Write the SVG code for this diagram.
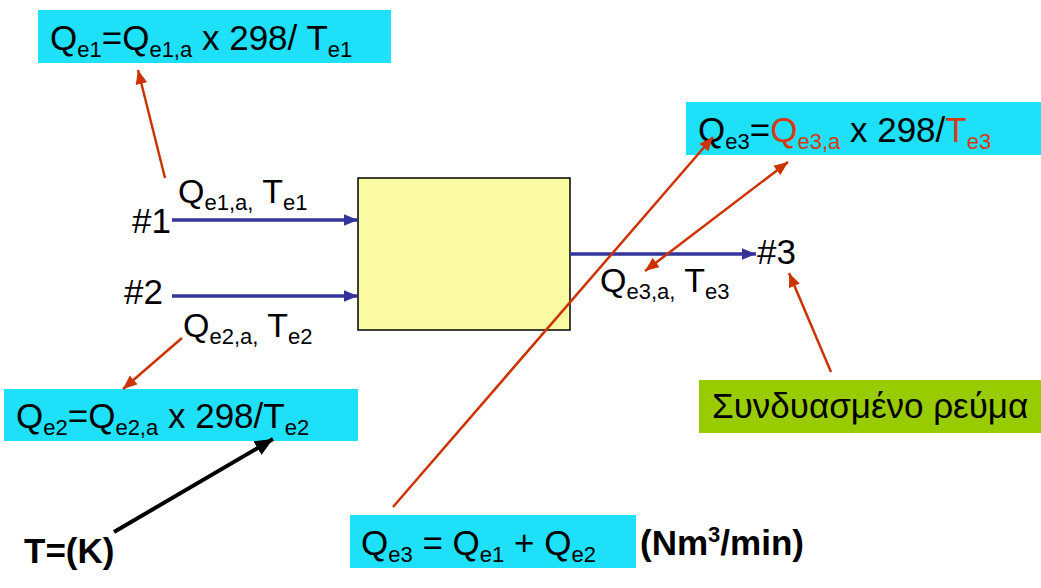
<svg xmlns="http://www.w3.org/2000/svg" width="1041" height="588" viewBox="0 0 1041 588">
<style>
text{font-family:"Liberation Sans",Arial,sans-serif;fill:#000}
.f{font-size:35px}
.l{font-size:34px}
.b{font-weight:bold;font-size:35px}
.s{font-size:22px}
.cy{fill:#1ee0f8}
.red{fill:#d83a12}
.rl{stroke:#cc3300;stroke-width:2.5;fill:none}
.bl{stroke:#333399;stroke-width:3.5;fill:none}
</style>
<defs>
<marker id="ar" markerUnits="userSpaceOnUse" markerWidth="14" markerHeight="12" refX="12" refY="5" orient="auto-start-reverse" viewBox="0 0 12 10"><path d="M0,0 L12,5 L0,10 Z" fill="#cc3300"/></marker>
<marker id="ab" markerUnits="userSpaceOnUse" markerWidth="14" markerHeight="12" refX="12" refY="5" orient="auto" viewBox="0 0 12 10"><path d="M0,0 L12,5 L0,10 Z" fill="#333399"/></marker>
<marker id="ak" markerUnits="userSpaceOnUse" markerWidth="18" markerHeight="16" refX="16" refY="7" orient="auto" viewBox="0 0 16 14"><path d="M0,0 L16,7 L0,14 Z" fill="#000"/></marker>
</defs>

<g id="box1">
<rect class="cy" x="38" y="10" width="353" height="53"/>
<text class="f" x="50" y="50">Q<tspan class="s" dy="7">e1</tspan><tspan dy="-7">=Q</tspan><tspan class="s" dy="7">e1,a</tspan><tspan dy="-7"> x 298/ T</tspan><tspan class="s" dy="7">e1</tspan></text>
</g>

<g id="mixer">
<rect x="358" y="178" width="212" height="152" fill="#fafaa2" stroke="#000" stroke-width="1.5"/>
</g>

<g id="in1">
<text class="f" x="132" y="233">#1</text>
<text class="l" x="178" y="203">Q<tspan class="s" dy="7">e1,a,</tspan><tspan dy="-7"> T</tspan><tspan class="s" dy="7">e1</tspan></text>
</g>

<g id="in2">
<text class="f" x="124" y="304">#2</text>
<text class="l" x="183" y="337">Q<tspan class="s" dy="7">e2,a,</tspan><tspan dy="-7"> T</tspan><tspan class="s" dy="7">e2</tspan></text>
</g>

<g id="box2">
<rect class="cy" x="4" y="389" width="354" height="52"/>
<text class="f" x="16" y="428">Q<tspan class="s" dy="7">e2</tspan><tspan dy="-7">=Q</tspan><tspan class="s" dy="7">e2,a</tspan><tspan dy="-7"> x 298/T</tspan><tspan class="s" dy="7">e2</tspan></text>
</g>

<g id="out3">
<text class="f" x="757" y="264">#3</text>
<text class="l" x="600" y="292">Q<tspan class="s" dy="7">e3,a,</tspan><tspan dy="-7"> T</tspan><tspan class="s" dy="7">e3</tspan></text>
</g>

<g id="box4">
<rect class="cy" x="686" y="102" width="355" height="53"/>
<text class="f" x="698" y="142">Q<tspan class="s" dy="7">e3</tspan><tspan dy="-7">=</tspan><tspan class="red">Q</tspan><tspan class="s red" dy="7">e3,a</tspan><tspan dy="-7"> x 298/</tspan><tspan class="red">T</tspan><tspan class="s red" dy="7">e3</tspan></text>
</g>

<g id="combined">
<rect x="699" y="380" width="342" height="53" fill="#99cc00"/>
<text class="f" x="712" y="418">Συνδυασμένο ρεύμα</text>
</g>

<g id="units">
<text class="b" x="24" y="563">T=(K)</text>
</g>

<g id="box3">
<rect class="cy" x="350" y="515" width="286" height="53"/>
<text class="f" x="361" y="555">Q<tspan class="s" dy="7">e3</tspan><tspan dy="-7"> = Q</tspan><tspan class="s" dy="7">e1</tspan><tspan dy="-7"> + Q</tspan><tspan class="s" dy="7">e2</tspan></text>
<text class="b" x="640" y="555">(Nm<tspan style="font-size:22px" dy="-13">3</tspan><tspan dy="13">/min)</tspan></text>
</g>

<g id="connectors">
<line class="bl" x1="172" y1="220" x2="358" y2="220" marker-end="url(#ab)"/>
<line class="bl" x1="172" y1="296" x2="358" y2="296" marker-end="url(#ab)"/>
<line class="bl" x1="570" y1="254" x2="756" y2="254" marker-end="url(#ab)"/>
<line class="rl" x1="165" y1="178" x2="138" y2="70" marker-end="url(#ar)"/>
<line class="rl" x1="182" y1="338" x2="123" y2="389" marker-end="url(#ar)"/>
<line class="rl" x1="393" y1="507" x2="713" y2="137" marker-end="url(#ar)"/>
<line class="rl" x1="788" y1="162" x2="645" y2="271" marker-start="url(#ar)" marker-end="url(#ar)"/>
<line class="rl" x1="831" y1="372" x2="789" y2="273" marker-end="url(#ar)"/>
<line x1="114" y1="532" x2="273" y2="439" stroke="#000" stroke-width="4" marker-end="url(#ak)"/>
</g>
</svg>
